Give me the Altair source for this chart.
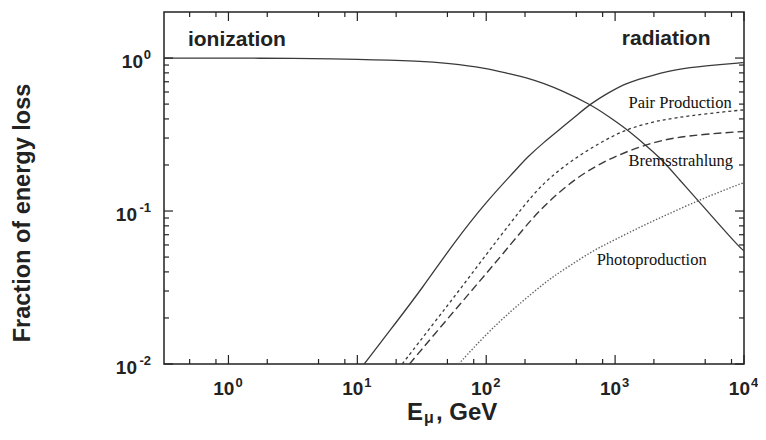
import altair as alt
import pandas as pd

# ---------------- data ----------------
ion_E = [0.316, 1, 3.16, 10, 31.6, 50, 100, 141, 207, 282, 374, 638, 891, 1227, 1585, 2223, 3162, 4395, 6310, 9226, 10000]
ion_f = [1.0, 1.0, 0.995, 0.985, 0.955, 0.925, 0.86, 0.80, 0.745, 0.68, 0.62, 0.50, 0.415, 0.343, 0.286, 0.225, 0.160, 0.117, 0.083, 0.058, 0.055]

rad_E = [11.3, 20, 31.6, 56.1, 100, 168, 207, 282, 374, 501, 638, 891, 1227, 1995, 2992, 5012, 9226, 10000]
rad_f = [0.01, 0.0187, 0.031, 0.062, 0.115, 0.184, 0.224, 0.283, 0.343, 0.42, 0.50, 0.595, 0.69, 0.775, 0.844, 0.89, 0.93, 0.933]

pair_E = [22.3, 39.8, 63.1, 100, 158.5, 226, 316, 501, 794, 1227, 1995, 2992, 5012, 9226, 10000]
pair_f = [0.01, 0.0188, 0.031, 0.052, 0.086, 0.126, 0.168, 0.225, 0.285, 0.343, 0.385, 0.408, 0.432, 0.456, 0.458]

brem_E = [25.4, 39.8, 63.1, 100, 158.5, 226, 316, 501, 794, 1227, 1995, 2992, 5012, 9226, 10000]
brem_f = [0.01, 0.0157, 0.0248, 0.039, 0.062, 0.089, 0.119, 0.165, 0.208, 0.245, 0.282, 0.303, 0.318, 0.330, 0.331]

photo_E = [61.2, 100, 158.5, 226, 313, 447, 678, 1000, 1652, 2692, 4395, 6310, 9226, 10000]
photo_f = [0.01, 0.0157, 0.0225, 0.0289, 0.0362, 0.044, 0.0553, 0.065, 0.0805, 0.097, 0.117, 0.132, 0.150, 0.153]

x_major = [1, 10, 100, 1000, 10000]
x_exps = ["0", "1", "2", "3", "4"]
x_minor = [0.5, 0.8, 2, 5, 8, 20, 50, 80, 200, 500, 800, 2000, 5000, 8000]

y_major = [0.01, 0.1, 1]
y_exps = ["-2", "-1", "0"]
y_minor = [0.02, 0.03, 0.04, 0.05, 0.06, 0.07, 0.08, 0.09,
           0.2, 0.3, 0.4, 0.5, 0.6, 0.7, 0.8, 0.9]

region_labels = ["ionization", "radiation"]
region_E = [0.485, 5495]
region_f = [1.197, 1.215]

process_labels = ["Pair Production", "Bremsstrahlung", "Photoproduction"]
process_E = [1271, 1271, 719]
process_f = [0.472, 0.198, 0.0442]

x_title_parts = ["E", "\u03bc", ", GeV"]
y_title = "Fraction of energy loss"

# ---------------- layout / style ----------------
W, H = 580, 352
INK = "#222222"
LINE = "#3a3a3a"
SANS = "Liberation Sans"
SERIF = "Liberation Serif"

xscale = alt.Scale(type="log", domain=[10 ** -0.5, 1e4], nice=False)
yscale = alt.Scale(type="log", domain=[0.01, 2], nice=False)

X = lambda f="E": alt.X(f"{f}:Q", scale=xscale, axis=None)
Y = lambda f="f": alt.Y(f"{f}:Q", scale=yscale, axis=None)


def curve(E, f, **style):
    df = pd.DataFrame({"E": E, "f": f})
    return alt.Chart(df).mark_line(clip=True, interpolate="basis", **style).encode(
        x=X(), y=Y(), order=alt.Order("E:Q"))


layers = [
    curve(ion_E, ion_f, color=LINE, strokeWidth=1.3),
    curve(rad_E, rad_f, color=LINE, strokeWidth=1.3),
    curve(pair_E, pair_f, color=LINE, strokeWidth=1.3, strokeDash=[3, 3]),
    curve(brem_E, brem_f, color=LINE, strokeWidth=1.4, strokeDash=[8, 4]),
    curve(photo_E, photo_f, color="#606060", strokeWidth=1.4, strokeDash=[1.4, 1.8]),
]


def xticks(vals, length):
    base = alt.Chart(pd.DataFrame({"E": vals})).mark_rule(color=INK, strokeWidth=1.2)
    return [
        base.encode(x=X(), y=alt.value(H), y2=alt.value(H - length)),
        base.encode(x=X(), y=alt.value(0), y2=alt.value(length)),
    ]


def yticks(vals, length):
    base = alt.Chart(pd.DataFrame({"f": vals})).mark_rule(color=INK, strokeWidth=1.2)
    return [
        base.encode(y=Y(), x=alt.value(0), x2=alt.value(length)),
        base.encode(y=Y(), x=alt.value(W), x2=alt.value(W - length)),
    ]


layers += xticks(x_major, 9) + xticks(x_minor, 5) + yticks(y_major, 9) + yticks(y_minor, 5)

# x tick labels: "10" with superscript exponent
xl = pd.DataFrame({"E": x_major, "exp": x_exps})
layers.append(alt.Chart(xl).mark_text(text="10", align="right", dx=6, baseline="alphabetic",
                                      font=SANS, fontSize=19, fontWeight="bold", color=INK)
              .encode(x=X(), y=alt.value(H + 31)))
layers.append(alt.Chart(xl).mark_text(align="left", dx=7, baseline="alphabetic",
                                      font=SANS, fontSize=13, fontWeight="bold", color=INK)
              .encode(x=X(), y=alt.value(H + 23), text="exp:N"))

# y tick labels
yl = pd.DataFrame({"f": y_major, "exp": y_exps})
layers.append(alt.Chart(yl).transform_calculate(bx="length(datum.exp) > 1 ? -27 : -21")
              .mark_text(text="10", align="right", dy=10, baseline="alphabetic",
                         font=SANS, fontSize=19, fontWeight="bold", color=INK)
              .encode(y=Y(), x=alt.X("bx:Q", scale=None, axis=None)))
layers.append(alt.Chart(yl).mark_text(align="right", dy=1, baseline="alphabetic",
                                      font=SANS, fontSize=13, fontWeight="bold", color=INK)
              .encode(y=Y(), x=alt.value(-13), text="exp:N"))

# region labels
rl = pd.DataFrame({"E": region_E, "f": region_f, "t": region_labels})
layers.append(alt.Chart(rl.iloc[[0]]).mark_text(align="left", baseline="alphabetic", font=SANS,
                                                fontSize=21, fontWeight="bold", color=INK)
              .encode(x=X(), y=Y(), text="t:N"))
layers.append(alt.Chart(rl.iloc[[1]]).mark_text(align="right", baseline="alphabetic", font=SANS,
                                                fontSize=21, fontWeight="bold", color=INK)
              .encode(x=X(), y=Y(), text="t:N"))

# process labels
pl = pd.DataFrame({"E": process_E, "f": process_f, "t": process_labels})
layers.append(alt.Chart(pl).mark_text(align="left", baseline="alphabetic", font=SERIF,
                                      fontSize=16.5, color="#111111")
              .encode(x=X(), y=Y(), text="t:N"))

# axis titles
layers.append(alt.Chart(pd.DataFrame({"t": [y_title]})).mark_text(
    angle=270, align="center", baseline="bottom", font=SANS, fontSize=23.5, fontWeight="bold", color=INK)
    .encode(x=alt.value(-129), y=alt.value(201), text="t:N"))
layers.append(alt.Chart(pd.DataFrame({"t": [x_title_parts[0]]})).mark_text(
    align="left", baseline="alphabetic", font=SANS, fontSize=24, fontWeight="bold", color=INK)
    .encode(x=alt.value(243), y=alt.value(408), text="t:N"))
layers.append(alt.Chart(pd.DataFrame({"t": [x_title_parts[1]]})).mark_text(
    align="left", baseline="alphabetic", font=SANS, fontSize=16, fontWeight="bold", color=INK)
    .encode(x=alt.value(260), y=alt.value(411), text="t:N"))
layers.append(alt.Chart(pd.DataFrame({"t": [x_title_parts[2]]})).mark_text(
    align="left", baseline="alphabetic", font=SANS, fontSize=24, fontWeight="bold", color=INK)
    .encode(x=alt.value(272), y=alt.value(408), text="t:N"))

chart = alt.layer(*layers).properties(
    width=W, height=H,
    padding={"left": 156, "top": 4, "right": 14, "bottom": 62},
    autosize=alt.AutoSizeParams(type="none"),
    background="white",
).configure_view(stroke=INK, strokeWidth=1.5)

chart.save("out.html", embed_options={"renderer": "svg", "actions": False})
